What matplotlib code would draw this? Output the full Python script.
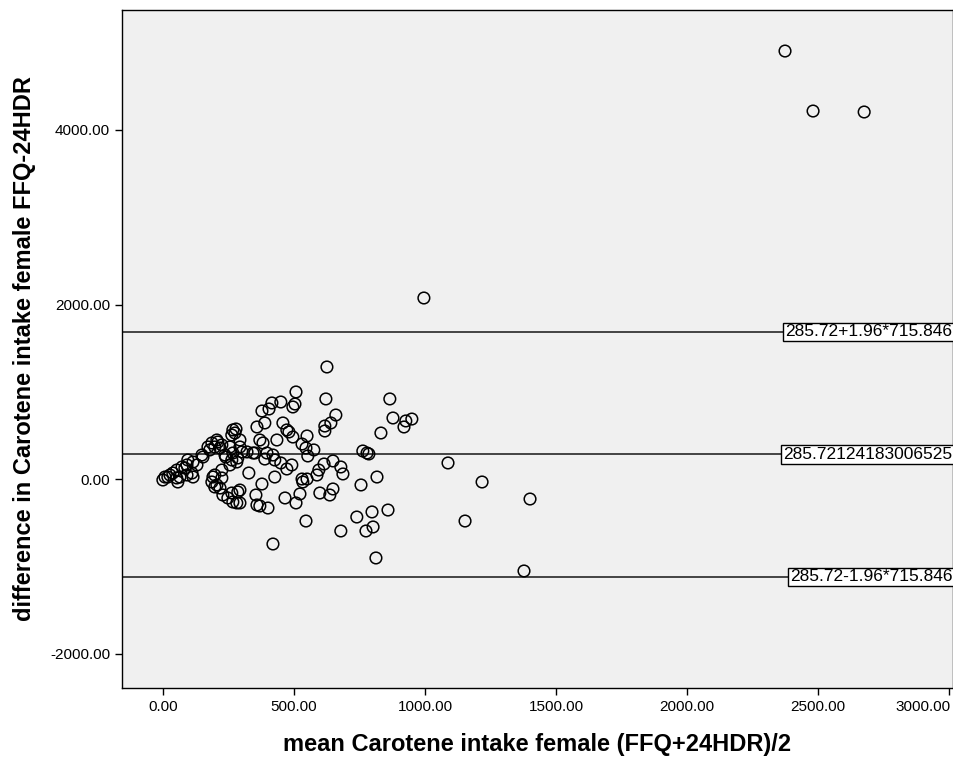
import matplotlib
matplotlib.use("Agg")
import matplotlib.pyplot as plt
import matplotlib.transforms as mtransforms

plt.rcParams['font.family'] = ['Liberation Sans', 'DejaVu Sans']

# mean of FFQ and 24HDR
mean_vals = [
    0, 8, 19, 27, 38, 53, 53, 65, 57, 73, 84, 92, 92, 95, 115, 115, 130, 111, 149, 153,
    172, 179, 187, 198, 210, 218, 225, 206, 267, 275, 263, 279, 256, 294, 302, 267, 294,
    237, 240, 263, 282, 286, 225, 256, 191, 198, 225, 187, 206, 218, 198, 229, 263, 286,
    267, 282, 248, 294, 294,
    321, 328, 344, 351, 359, 389, 370, 382, 378, 405, 416, 450, 397, 420, 389, 427, 378,
    355, 359, 370, 401, 435, 458, 473, 481, 450, 492, 473, 427, 466, 508, 523, 496, 508,
    504, 496, 420,
    550, 531, 546, 576, 553, 531, 550, 534, 588, 595, 615, 649, 679, 687, 599, 637, 649,
    546, 626, 622, 660, 641, 618, 618, 679,
    740, 798, 859, 756, 817, 763, 779, 786, 775, 802, 813, 832, 866, 878, 920, 927, 950,
    996, 1088, 1153, 1218, 1401, 1378, 2374, 2481, 2676,
]
# difference FFQ - 24HDR
diff_vals = [
    -8, 26, 26, 49, 72, 106, 15, 26, -31, 141, 129, 164, 49, 221, 198, 26, 164, 72, 278, 255,
    370, 336, 416, 370, 427, 358, 393, 450, 565, 530, 507, 576, 370, 370, 313, 301, 450,
    278, 255, 221, 198, 244, 106, 164, 26, 49, 15, -31, -65, -100, -88, -180, -157, -145,
    -260, -271, -214, -123, -271,
    313, 72, 301, 301, 599, 645, 450, 416, 782, 805, 874, 885, 301, 278, 232, 221, -54,
    -180, -294, -306, -329, 450, 645, 565, 542, 187, 164, 118, 26, -214, -271, -168, 484, 1000,
    862, 828, -741,
    496, 404, 358, 336, 267, 3, 3, -31, 49, 106, 175, 210, 141, 61, -157, -180, -111,
    -478, 1286, 920, 736, 645, 610, 553, -592,
    -432, -374, -352, -65, 26, 324, 301, 290, -592, -546, -901, 530, 920, 702, 599, 668, 690,
    2076, 187, -478, -31, -226, -1050, 4904, 4217, 4206,
]

mean_diff = 285.72124183006525
sd_diff = 715.846
line_labels = ["285.72+1.96*715.846", "285.72124183006525", "285.72-1.96*715.846"]
line_values = [mean_diff + 1.96 * sd_diff, mean_diff, mean_diff - 1.96 * sd_diff]

x_ticks = [0, 500, 1000, 1500, 2000, 2500, 3000]
y_ticks = [-2000, 0, 2000, 4000]

fig = plt.figure(figsize=(9.54, 7.65), dpi=100)
ax = fig.add_axes([122 / 954, 77 / 765, 831 / 954, 678 / 765])
ax.set_facecolor('#F0F0F0')

ax.scatter(mean_vals, diff_vals, s=70, facecolors='none', edgecolors='black',
           linewidths=1.1, zorder=3)

trans = mtransforms.blended_transform_factory(ax.transAxes, ax.transData)
for val, lab in zip(line_values, line_labels):
    ax.axhline(val, color='#444444', linewidth=1.4, zorder=2)
    ax.text(0.999, val, lab, transform=trans, ha='right', va='center', fontsize=12.5,
            zorder=4,
            bbox=dict(boxstyle='square,pad=0.1', facecolor='white', edgecolor='black',
                      linewidth=1.0))

ax.set_xlim(-156, 3015)
ax.set_ylim(-2390, 5374)
ax.set_xticks(x_ticks)
ax.set_yticks(y_ticks)
ax.set_xticklabels([f"{v:.2f}" for v in x_ticks])
ax.set_yticklabels([f"{v:.2f}" for v in y_ticks])
ax.tick_params(axis='both', direction='out', length=5, width=1, labelsize=11,
               colors='black')
for s in ax.spines.values():
    s.set_color('black')
    s.set_linewidth(1.0)

# keep the last x tick label inside the figure (as in the reference)
last = ax.get_xticklabels()[-1]
last.set_transform(last.get_transform() +
                   mtransforms.ScaledTranslation(-26 / 100, 0, fig.dpi_scale_trans))

ax.set_xlabel("mean Carotene intake female (FFQ+24HDR)/2", fontsize=17,
              fontweight='bold', labelpad=14)
ax.set_ylabel("difference in Carotene intake female FFQ-24HDR", fontsize=17,
              fontweight='bold', labelpad=10)

fig.savefig("out.png", dpi=100)
